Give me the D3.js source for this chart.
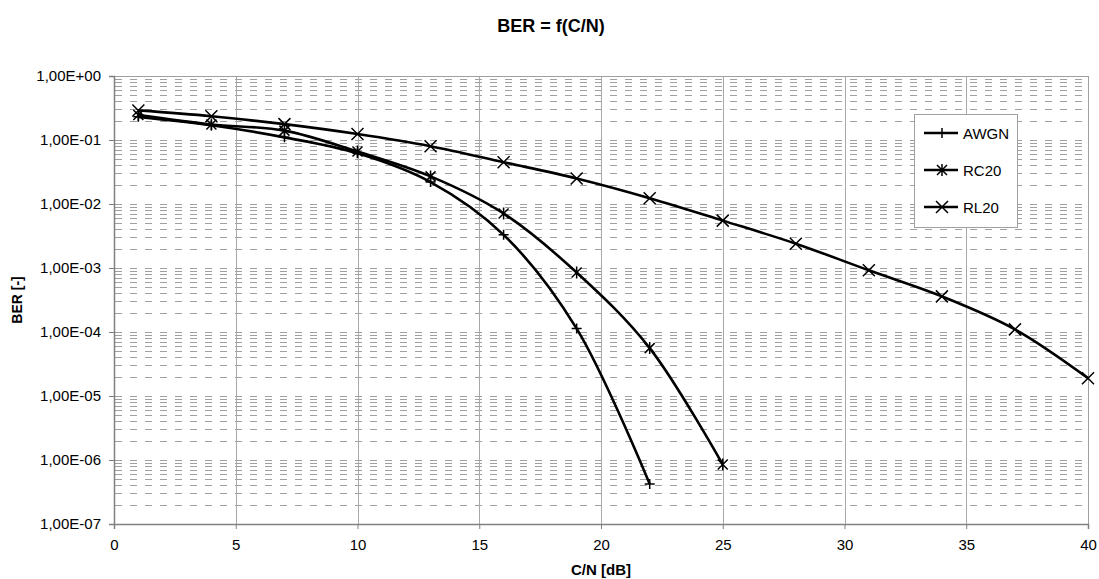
<!DOCTYPE html>
<html>
<head>
<meta charset="utf-8">
<script src="https://cdn.jsdelivr.net/npm/d3@7"></script>
<style>
  body { margin: 0; background: #fff; }
  text { font-family: "Liberation Sans", Arial, sans-serif; fill: #000; }
</style>
</head>
<body>
<svg width="1099" height="579"></svg>
<script>
// C/N points in dB (one marker per point)
var snrAwgn = [1, 4, 7, 10, 13, 16, 19, 22];
var snrRc20 = [1, 4, 7, 10, 13, 16, 19, 22, 25];
var snrRl20 = [1, 4, 7, 10, 13, 16, 19, 22, 25, 28, 31, 34, 37, 40];

// BER values
var berAwgn = [0.23, 0.17, 0.11, 0.062, 0.022, 0.0033, 1.13e-4, 4.2e-7];
var berRc20 = [0.245, 0.175, 0.14, 0.066, 0.027, 0.0071, 8.5e-4, 5.6e-5, 8.5e-7];
var berRl20 = [0.29, 0.235, 0.177, 0.124, 0.08, 0.045, 0.025, 0.0123, 0.0055, 0.0024, 9.2e-4, 3.6e-4, 1.1e-4, 1.9e-5];

var seriesNames = ["AWGN", "RC20", "RL20"];
var xTicks = [0, 5, 10, 15, 20, 25, 30, 35, 40];
var yTicks = [1, 1e-1, 1e-2, 1e-3, 1e-4, 1e-5, 1e-6, 1e-7];

var svg = d3.select("svg"),
    plotL = 114, plotR = 1088, plotT = 76, plotB = 524;

var x = d3.scaleLinear().domain([0, 40]).range([plotL, plotR]);
var y = d3.scaleLog().domain([1e-7, 1]).range([plotB, plotT]);

function sci(v) {
    var e = Math.round(Math.log10(v));
    var s = e < 0 ? "-" : "+";
    var a = Math.abs(e);
    return "1,00E" + s + (a < 10 ? "0" : "") + a;
}

// minor horizontal grid (dashed) : every 1..9 of each decade
var minor = [];
for (var d = -7; d < 0; d++) {
    for (var k = 1; k < 10; k++) minor.push(k * Math.pow(10, d));
}
svg.append("g")
    .selectAll("line")
    .data(minor.filter(function(v) { return v > 1e-7; }))
    .enter().append("line")
    .attr("x1", plotL + 1).attr("x2", plotR)
    .attr("y1", function(v) { return Math.round(y(v)) + 0.5; })
    .attr("y2", function(v) { return Math.round(y(v)) + 0.5; })
    .attr("stroke", "#a0a0a0")
    .attr("stroke-dasharray", "7,8");

// vertical grid
svg.append("g")
    .selectAll("line")
    .data(xTicks.slice(1))
    .enter().append("line")
    .attr("x1", function(d) { return Math.round(x(d)) + 0.5; })
    .attr("x2", function(d) { return Math.round(x(d)) + 0.5; })
    .attr("y1", plotT).attr("y2", plotB)
    .attr("stroke", "#a8a8a8");

// plot frame
svg.append("rect")
    .attr("x", plotL + 0.5).attr("y", plotT + 0.5)
    .attr("width", plotR - plotL)
    .attr("height", plotB - plotT)
    .attr("fill", "none").attr("stroke", "#a0a0a0");

// axes
var xAxis = svg.append("g")
    .attr("transform", "translate(0," + plotB + ")")
    .call(d3.axisBottom(x).tickValues(xTicks).tickSize(5).tickPadding(10).tickFormat(d3.format("d")));
var yAxis = svg.append("g")
    .attr("transform", "translate(" + plotL + ",0)")
    .call(d3.axisLeft(y).tickValues(yTicks).tickSize(5).tickPadding(8).tickFormat(sci));

[xAxis, yAxis].forEach(function(a) {
    a.select(".domain").attr("stroke", "#808080").attr("stroke-width", 1.5);
    a.selectAll(".tick line").attr("stroke", "#808080");
    a.selectAll(".tick text")
        .style("font-family", "'Liberation Sans', Arial, sans-serif")
        .style("font-size", "15px").attr("fill", "#000");
});

// series
var series = [
    { name: seriesNames[0], xs: snrAwgn, ys: berAwgn, marker: "M-5,0H5M0,-5V5" },
    { name: seriesNames[1], xs: snrRc20, ys: berRc20, marker: "M0,-6V6M-5,-5L5,5M-5,5L5,-5" },
    { name: seriesNames[2], xs: snrRl20, ys: berRl20, marker: "M-6,-6L6,6M-6,6L6,-6" }
];

var line = d3.line()
    .x(function(d) { return x(d[0]); })
    .y(function(d) { return y(d[1]); })
    .curve(d3.curveCatmullRom);

series.forEach(function(s) {
    var pts = s.xs.map(function(v, i) { return [v, s.ys[i]]; });
    svg.append("path")
        .datum(pts)
        .attr("d", line)
        .attr("fill", "none")
        .attr("stroke", "#000")
        .attr("stroke-width", 2.6);
    svg.append("g")
        .selectAll("path")
        .data(pts)
        .enter().append("path")
        .attr("transform", function(d) { return "translate(" + x(d[0]) + "," + y(d[1]) + ")"; })
        .attr("d", s.marker)
        .attr("fill", "none")
        .attr("stroke", "#000")
        .attr("stroke-width", 1.5);
});

// legend
var legend = svg.append("g").attr("transform", "translate(914,114)");
legend.append("rect")
    .attr("x", 0.5).attr("y", 0.5)
    .attr("width", 103).attr("height", 113)
    .attr("fill", "#fff").attr("stroke", "#a0a0a0");
series.forEach(function(s, i) {
    var g = legend.append("g").attr("transform", "translate(0," + (19 + i * 37) + ")");
    g.append("line").attr("x1", 10).attr("x2", 44)
        .attr("stroke", "#000").attr("stroke-width", 2.5);
    g.append("path").attr("transform", "translate(28,0)")
        .attr("d", s.marker).attr("fill", "none")
        .attr("stroke", "#000").attr("stroke-width", 1.5);
    g.append("text").attr("x", 49).attr("y", 5.5)
        .style("font-size", "15px").text(s.name);
});

// titles
svg.append("text")
    .attr("x", 551).attr("y", 32)
    .attr("text-anchor", "middle")
    .style("font-size", "18px").style("font-weight", "bold")
    .text("BER = f(C/N)");

svg.append("text")
    .attr("x", 601).attr("y", 575)
    .attr("text-anchor", "middle")
    .style("font-size", "15px").style("font-weight", "bold")
    .text("C/N [dB]");

svg.append("text")
    .attr("transform", "translate(22,300) rotate(-90)")
    .attr("text-anchor", "middle")
    .style("font-size", "14px").style("font-weight", "bold")
    .text("BER [-]");
</script>
</body>
</html>
